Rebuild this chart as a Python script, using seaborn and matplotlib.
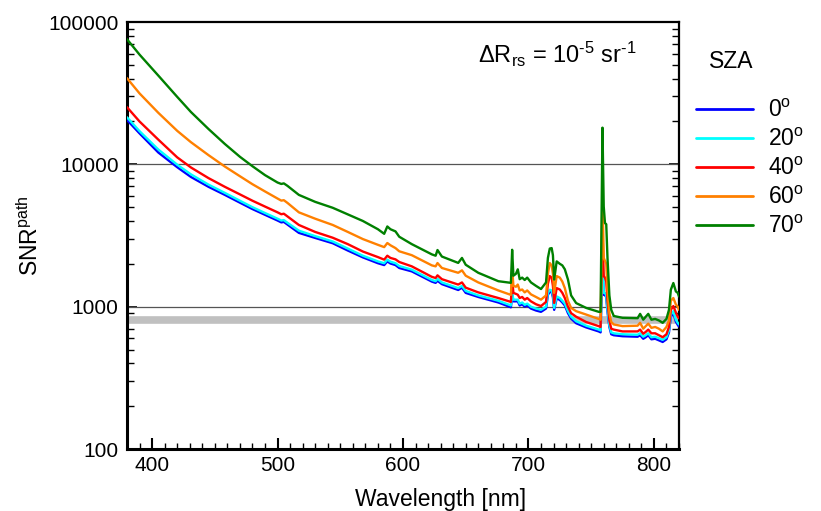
import numpy as np
import pandas as pd
import matplotlib
matplotlib.use("Agg")
import matplotlib.pyplot as plt
import matplotlib.ticker as mticker
import seaborn as sns

# ---------------- data ----------------
wavelength = [380, 390, 405, 420, 431, 445, 458, 470, 480, 490,
              500, 503, 505, 508, 517, 530, 544, 556, 568, 580,
              585, 587.5, 590, 594, 597, 607, 623, 626, 627.5, 631,
              644, 647, 650, 660, 676, 686,
              687, 688, 690, 691.5, 693, 695, 697, 699, 702, 706,
              710, 714, 715.5, 717, 718.5, 719.5, 720.5, 722.5, 725, 727,
              729, 731.5, 734, 738, 746, 756, 757.5, 759, 760, 761,
              762, 763, 764.5, 766, 768, 775, 787, 789, 791.5, 793.5,
              795.5, 798, 801, 804, 807, 810, 812, 813.5, 815.5, 817.5,
              819, 820]

snr_sza0 = [20500, 16500, 12100, 9550, 8150, 6950, 6100, 5380, 4850, 4420,
            4030, 3910, 3940, 3770, 3300, 3040, 2790, 2480, 2220, 2020,
            1960, 2080, 2010, 1960, 1870, 1770, 1500, 1470, 1520, 1440,
            1310, 1360, 1250, 1170, 1070, 990,
            1210, 1090, 1090, 1090, 1020, 1040, 1000, 1020, 970, 940,
            920, 970, 1210, 1275, 1260, 1165, 950, 1145, 1115, 1070,
            1020, 900, 825, 765, 715, 670, 660, 2100, 1210, 1210,
            1165, 920, 720, 640, 630, 620, 615, 630, 595, 610,
            630, 590, 595, 580, 565, 590, 660, 850, 900, 785,
            745, 725]

snr_sza20 = [21400, 17100, 12700, 9950, 8500, 7200, 6300, 5550, 5000, 4550,
             4150, 4030, 4060, 3880, 3420, 3130, 2870, 2560, 2280, 2080,
             2020, 2140, 2070, 2020, 1930, 1820, 1540, 1510, 1570, 1480,
             1350, 1400, 1290, 1200, 1100, 1020,
             1250, 1120, 1120, 1120, 1050, 1070, 1030, 1050, 1000, 970,
             950, 1000, 1250, 1315, 1300, 1200, 980, 1180, 1150, 1100,
             1050, 930, 850, 790, 735, 690, 680, 2200, 1250, 1250,
             1200, 950, 740, 660, 650, 640, 635, 650, 615, 630,
             650, 610, 615, 600, 585, 610, 680, 880, 930, 810,
             770, 750]

snr_sza40 = [25200, 20000, 14900, 11200, 9500, 8000, 6950, 6150, 5550, 5050,
             4600, 4460, 4500, 4300, 3750, 3350, 3050, 2750, 2440, 2230,
             2140, 2280, 2200, 2150, 2060, 1920, 1620, 1590, 1660, 1560,
             1430, 1480, 1360, 1260, 1150, 1080,
             1547, 1250, 1230, 1213, 1150, 1170, 1120, 1150, 1090, 1040,
             1010, 1080, 1450, 1640, 1600, 1400, 1062, 1350, 1320, 1250,
             1150, 1000, 900, 850, 780, 730, 720, 3500, 1640, 1600,
             1500, 1100, 800, 700, 690, 670, 670, 690, 645, 665,
             690, 650, 650, 630, 610, 640, 720, 950, 1010, 910,
             850, 830]

snr_sza60 = [40300, 31500, 23000, 17200, 14300, 11600, 9650, 8250, 7250, 6450,
             5750, 5560, 5600, 5350, 4600, 4150, 3750, 3350, 2985, 2720,
             2620, 2800, 2700, 2580, 2450, 2300, 1950, 1920, 2025, 1870,
             1730, 1800, 1650, 1480, 1300, 1210,
             1850, 1400, 1380, 1430, 1300, 1320, 1260, 1300, 1220, 1170,
             1120, 1200, 1700, 2025, 1950, 1700, 1250, 1640, 1600, 1500,
             1350, 1100, 980, 930, 880, 820, 810, 6000, 2200, 2100,
             2000, 1300, 900, 780, 750, 730, 735, 770, 700, 730,
             760, 710, 720, 700, 670, 720, 800, 1100, 1150, 1035,
             1000, 950]

snr_sza70 = [75700, 59000, 42000, 29800, 23300, 17700, 13900, 11300, 9700, 8400,
             7450, 7280, 7350, 7050, 6100, 5450, 4950, 4450, 4000, 3500,
             3250, 3660, 3500, 3380, 3100, 2750, 2330, 2280, 2500, 2250,
             2030, 2200, 1970, 1730, 1510, 1470,
             2510, 1650, 1700, 1830, 1560, 1600, 1540, 1600, 1480, 1400,
             1330, 1480, 2200, 2560, 2580, 2300, 1550, 2080, 2000, 1950,
             1830, 1550, 1200, 1060, 980, 920, 920, 18100, 5060, 3860,
             3800, 2200, 1200, 950, 860, 835, 830, 890, 810, 850,
             890, 810, 820, 800, 770, 820, 950, 1315, 1466, 1280,
             1250, 1180]

sza_labels = ["0$^{\\mathrm{o}}$", "20$^{\\mathrm{o}}$", "40$^{\\mathrm{o}}$",
              "60$^{\\mathrm{o}}$", "70$^{\\mathrm{o}}$"]
series = [snr_sza0, snr_sza20, snr_sza40, snr_sza60, snr_sza70]
colors = ["#0000ff", "#00ffff", "#ff0000", "#ff8000", "#008000"]

ref_lines = [1000, 10000]
threshold = 800
x_ticks = [400, 500, 600, 700, 800]
y_ticks = [100, 1000, 10000, 100000]

# ---------------- build table ----------------
frames = []
for lab, vals in zip(sza_labels, series):
    frames.append(pd.DataFrame({"wl": wavelength, "snr": vals, "sza": lab}))
df = pd.concat(frames, ignore_index=True)

# ---------------- style ----------------
sns.set_style("white")
plt.rcParams["font.family"] = ["Liberation Sans", "DejaVu Sans"]
plt.rcParams["mathtext.fontset"] = "custom"
plt.rcParams["mathtext.rm"] = "Liberation Sans"
plt.rcParams["mathtext.it"] = "Liberation Sans:italic"
plt.rcParams["mathtext.bf"] = "Liberation Sans:bold"
for key in ["text.color", "axes.labelcolor", "xtick.color", "ytick.color"]:
    plt.rcParams[key] = "black"

fig = plt.figure(figsize=(8.21, 5.11), dpi=100)
ax = fig.add_axes([127 / 821, 1 - 449 / 511, (679 - 127) / 821, (449 - 22) / 511])

ax.axhline(threshold, color="#c0c0c0", lw=5.5, zorder=1, solid_capstyle="butt")
for r in ref_lines:
    ax.axhline(r, color="#555555", lw=0.9, zorder=1.5)

sns.lineplot(data=df, x="wl", y="snr", hue="sza", hue_order=sza_labels,
             palette=dict(zip(sza_labels, colors)), sort=False, estimator=None,
             linewidth=1.7, ax=ax, legend=True, zorder=3)

ax.set_yscale("log")
ax.set_xlim(380, 820)
ax.set_ylim(100, 100000)

ax.set_xticks(x_ticks)
ax.xaxis.set_minor_locator(mticker.MultipleLocator(10))
ax.set_yticks(y_ticks)
ax.yaxis.set_major_formatter(mticker.FuncFormatter(lambda v, p: f"{int(round(v))}"))
ax.yaxis.set_minor_locator(mticker.LogLocator(base=10, subs=np.arange(2, 10)))
ax.yaxis.set_minor_formatter(mticker.NullFormatter())

ax.tick_params(axis="x", which="major", direction="in", length=8, width=1.5,
               labelsize=15, pad=5, top=False, bottom=True)
ax.tick_params(axis="x", which="minor", direction="in", length=4, width=1.0,
               top=False, bottom=True)
ax.tick_params(axis="y", which="major", direction="in", length=7, width=1.2,
               labelsize=15, pad=6, left=True, right=True)
ax.tick_params(axis="y", which="minor", direction="in", length=5, width=1.0,
               left=True, right=True)

for side, lw in [("left", 2.2), ("bottom", 2.2), ("top", 1.6), ("right", 1.6)]:
    ax.spines[side].set_visible(True)
    ax.spines[side].set_color("black")
    ax.spines[side].set_linewidth(lw)

ax.set_xlabel("Wavelength [nm]", fontsize=16.5)
ax.xaxis.set_label_coords((441 - 127) / 552, -0.092)
ax.set_ylabel("SNR$^{\\mathrm{path}}$", fontsize=16.5)

ax.text(0.779, 0.923,
        "$\\Delta$R$_{\\mathrm{rs}}$ = 10$^{\u2010\\mathrm{5}}$ sr$^{\u2010\\mathrm{1}}$",
        transform=ax.transAxes, ha="center", va="center", fontsize=17)

handles, labels = ax.get_legend_handles_labels()
ax.get_legend().remove()
for h in handles:
    h.set_linewidth(2.0)
fig.text(731 / 821, 1 - 62 / 511, "SZA", ha="center", va="center", fontsize=16.5)
fig.legend(handles, labels, loc="center left",
           bbox_to_anchor=(696 / 821, 1 - 168.5 / 511), frameon=False,
           borderpad=0, borderaxespad=0, handlelength=2.5, handletextpad=0.65,
           labelspacing=0.26, fontsize=16.5)

fig.savefig("out.png", dpi=100)
